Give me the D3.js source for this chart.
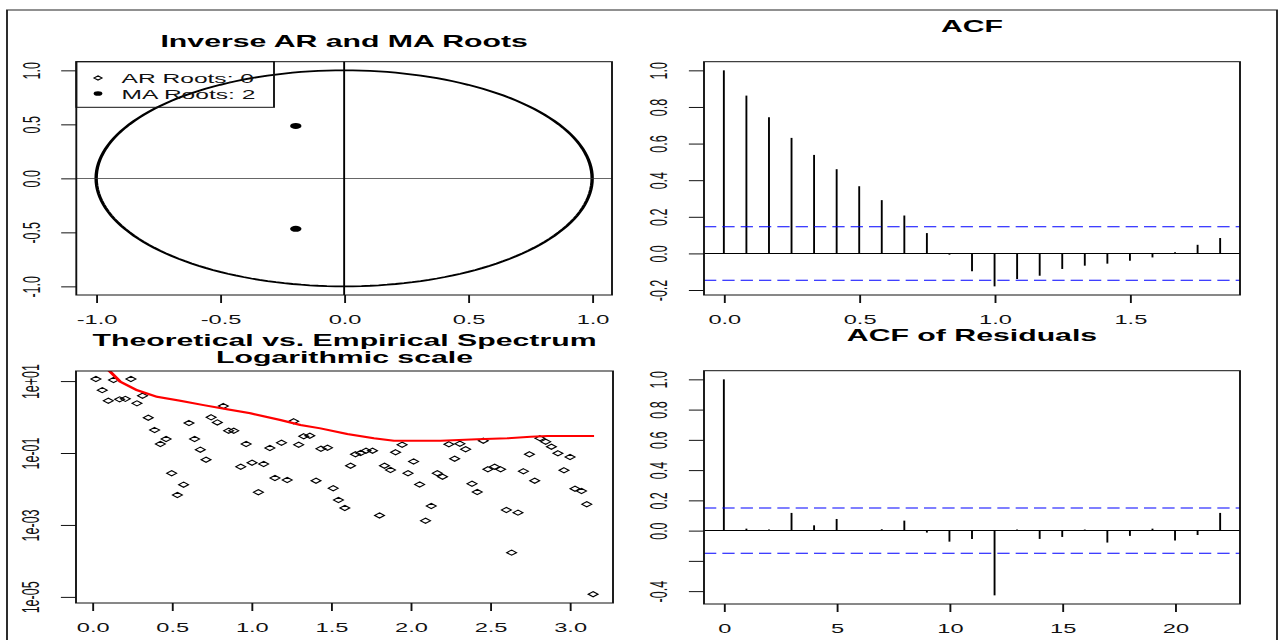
<!DOCTYPE html>
<html>
<head>
<meta charset="utf-8">
<script src="https://cdn.jsdelivr.net/npm/d3@7"></script>
<style>
  html, body { margin: 0; padding: 0; background: #fff; }
  svg { display: block; }
</style>
</head>
<body>
<div class="chart"></div>
<script>
// ---- values ----

// inverse roots panel
const rootTicks = [-1, -0.5, 0, 0.5, 1];
const rootLabels = ["-1.0", "-0.5", "0.0", "0.5", "1.0"];
const maRootRe = [-0.195, -0.195];
const maRootIm = [0.485, -0.467];
const legendLabels = ["AR Roots: 0", "MA Roots: 2"];

// ACF panel
const acfLags = [0, 0.0833, 0.1667, 0.25, 0.3333, 0.4167, 0.5, 0.5833, 0.6667, 0.75, 0.8333, 0.9167,
                 1.0, 1.0833, 1.1667, 1.25, 1.3333, 1.4167, 1.5, 1.5833, 1.6667, 1.75, 1.8333];
const acfValues = [1.0, 0.862, 0.744, 0.631, 0.538, 0.46, 0.367, 0.291, 0.207, 0.111, -0.007, -0.098,
                   -0.18, -0.14, -0.122, -0.085, -0.067, -0.056, -0.04, -0.022, 0.007, 0.047, 0.084];
const acfCi = 0.146;
const acfXTicks = [0, 0.5, 1, 1.5];
const acfXLabels = ["0.0", "0.5", "1.0", "1.5"];
const acfYTicks = [-0.2, 0, 0.2, 0.4, 0.6, 0.8, 1];
const acfYLabels = ["-0.2", "0.0", "0.2", "0.4", "0.6", "0.8", "1.0"];

// spectrum panel
const specFreq = [0.023, 0.063, 0.101, 0.134, 0.172, 0.208, 0.243, 0.281, 0.316, 0.352,
                  0.392, 0.428, 0.464, 0.499, 0.535, 0.574, 0.608, 0.643, 0.679, 0.715,
                  0.747, 0.786, 0.824, 0.857, 0.889, 0.933, 0.967, 1.004, 1.044, 1.077,
                  1.116, 1.148, 1.189, 1.225, 1.266, 1.297, 1.329, 1.367, 1.406, 1.437,
                  1.478, 1.514, 1.547, 1.587, 1.623, 1.654, 1.686, 1.72, 1.761, 1.805,
                  1.836, 1.874, 1.906, 1.947, 1.984, 2.019, 2.057, 2.094, 2.13, 2.168,
                  2.201, 2.241, 2.277, 2.31, 2.346, 2.386, 2.419, 2.457, 2.486, 2.528,
                  2.566, 2.602, 2.635, 2.675, 2.709, 2.747, 2.78, 2.813, 2.849, 2.885,
                  2.926, 2.964, 3.002, 3.033, 3.074, 3.107, 3.147];
const specEmpirical = [11.4, 5.6, 2.84, 10.7, 3.1, 3.2, 11.4, 2.4, 3.9, 0.96,
                       0.435, 0.178, 0.245, 0.0273, 0.0068, 0.0132, 0.68, 0.245, 0.124, 0.0652,
                       0.98, 0.71, 2.02, 0.416, 0.416, 0.0416, 0.178, 0.0538, 0.0081, 0.0494,
                       0.138, 0.0202, 0.193, 0.0178, 0.76, 0.17, 0.291, 0.303, 0.017, 0.1315,
                       0.14, 0.01045, 0.00495, 0.00297, 0.0444, 0.092, 0.1, 0.116, 0.116, 0.00184,
                       0.0444, 0.0337, 0.1045, 0.17, 0.0273, 0.058, 0.0133, 0.00131, 0.00337, 0.0273,
                       0.022, 0.1745, 0.0695, 0.181, 0.127, 0.014, 0.00826, 0.22, 0.0352, 0.0416,
                       0.0352, 0.00261, 0.00017, 0.0022, 0.031, 0.092, 0.017, 0.256, 0.206, 0.15,
                       0.098, 0.033, 0.0774, 0.0102, 0.0088, 0.00376, 0.0000119];
const theoFreq = [0.103, 0.176, 0.281, 0.407, 0.553, 0.7, 0.847, 0.994, 1.182, 1.308, 1.434,
                  1.602, 1.769, 1.895, 2.063, 2.189, 2.419, 2.608, 2.755, 2.86, 3.153];
const theoSpec = [20.2, 9.6, 5.6, 3.66, 2.84, 2.15, 1.64, 1.27, 0.826, 0.6, 0.485,
                  0.337, 0.256, 0.22, 0.22, 0.22, 0.24, 0.256, 0.284, 0.296, 0.296];
const specXTicks = [0, 0.5, 1, 1.5, 2, 2.5, 3];
const specXLabels = ["0.0", "0.5", "1.0", "1.5", "2.0", "2.5", "3.0"];
const specYTicks = [10, 0.1, 0.001, 0.00001];
const specYLabels = ["1e+01", "1e-01", "1e-03", "1e-05"];

// residual ACF panel
const resLags = [0, 1, 2, 3, 4, 5, 6, 7, 8, 9, 10, 11, 12, 13, 14, 15, 16, 17, 18, 19, 20, 21, 22];
const resAcf = [1.0, 0.013, 0.007, 0.117, 0.035, 0.077, 0.0, 0.009, 0.066, -0.013, -0.073, -0.055,
                -0.428, 0.007, -0.055, -0.042, 0.007, -0.079, -0.035, 0.013, -0.066, -0.029, 0.117];
const resCi = 0.15;
const resXTicks = [0, 5, 10, 15, 20];
const resXLabels = ["0", "5", "10", "15", "20"];
const resYTicks = [-0.4, -0.2, 0, 0.2, 0.4, 0.6, 0.8, 1];
const resYLabels = ["-0.4", "", "0.0", "0.2", "0.4", "0.6", "0.8", "1.0"];

// ---- layout ----
// the reference picture is stretched sideways, so draw in a squeezed space and scale it back
const S = 1.89;
const lx = v => v / S;
const FONT = "'Liberation Sans', Arial, Helvetica, sans-serif";

const svg = d3.select(".chart").append("svg").attr("width", 1280).attr("height", 640);
const root = svg.append("g").attr("transform", `scale(${S},1)`);

root.append("rect")
    .attr("x", lx(7)).attr("y", 10)
    .attr("width", lx(1270)).attr("height", 700)
    .attr("fill", "none").attr("stroke", "#222").attr("stroke-width", 1);

// R style range padding (4%)
function pad(ext){
    const d = (ext[1] - ext[0]) * 0.04;
    return [ext[0] - d, ext[1] + d];
}

function box(g, b){
    g.append("rect")
        .attr("x", lx(b.x0)).attr("y", b.y0)
        .attr("width", lx(b.x1 - b.x0)).attr("height", b.y1 - b.y0)
        .attr("fill", "none").attr("stroke", "#111").attr("stroke-width", 1);
}

function title(g, lines, cx, y){
    lines.forEach((t, i) => {
        g.append("text")
            .attr("x", lx(cx)).attr("y", y + i * 17)
            .attr("text-anchor", "middle")
            .attr("font-family", FONT).attr("font-weight", "bold").attr("font-size", 16)
            .attr("fill", "#000")
            .text(t);
    });
}

function bottomAxis(g, x, y0, ticks, labels){
    const a = g.append("g")
        .attr("transform", `translate(0,${y0})`)
        .call(d3.axisBottom(x).tickValues(ticks).tickFormat((d, i) => labels[i])
              .tickSize(8).tickSizeOuter(0).tickPadding(12));
    a.select(".domain").remove();
    a.attr("font-family", FONT).attr("font-size", 12.5);
    a.selectAll(".tick line").attr("stroke", "#111");
    a.selectAll(".tick text").attr("fill", "#111");
}

function leftAxis(g, y, x0, ticks, labels){
    const a = g.append("g")
        .attr("transform", `translate(${x0},0)`)
        .call(d3.axisLeft(y).tickValues(ticks).tickFormat((d, i) => labels[i])
              .tickSize(8).tickSizeOuter(0));
    a.select(".domain").remove();
    a.attr("font-family", FONT).attr("font-size", 12.5);
    a.selectAll(".tick line").attr("stroke", "#111");
    a.selectAll(".tick text")
        .attr("x", 0).attr("dy", "0.35em")
        .attr("text-anchor", "middle")
        .attr("transform", `translate(${-lx(45)},0) rotate(-90)`)
        .attr("fill", "#111");
}

function diamond(r){
    return `M0,${-r}L${r},0L0,${r}L${-r},0Z`;
}

// ---- inverse AR / MA roots ----
{
    const b = {x0: 76.3, x1: 612, y0: 61.7, y1: 295};
    const g = root.append("g");
    const x = d3.scaleLinear().domain([-1.08, 1.08]).range([lx(b.x0), lx(b.x1)]);
    const y = d3.scaleLinear().domain([-1.08, 1.08]).range([b.y1, b.y0]);

    // unit circle
    const circle = d3.range(0, 361, 2).map(a => [Math.cos(a * Math.PI / 180), Math.sin(a * Math.PI / 180)]);
    g.append("path")
        .attr("d", d3.line().x(d => x(d[0])).y(d => y(d[1]))(circle))
        .attr("fill", "none").attr("stroke", "#000").attr("stroke-width", 1.8);

    g.append("line").attr("x1", lx(b.x0)).attr("x2", lx(b.x1)).attr("y1", y(0)).attr("y2", y(0))
        .attr("stroke", "#333").attr("stroke-width", 0.9);
    g.append("line").attr("x1", x(0)).attr("x2", x(0)).attr("y1", b.y0).attr("y2", b.y1)
        .attr("stroke", "#000").attr("stroke-width", 1);

    g.selectAll(".ma").data(maRootRe).join("circle")
        .attr("cx", d => x(d)).attr("cy", (d, i) => y(maRootIm[i]))
        .attr("r", 3).attr("fill", "#000");

    box(g, b);
    bottomAxis(g, x, b.y1, rootTicks, rootLabels);
    leftAxis(g, y, lx(b.x0), rootTicks, rootLabels);
    title(g, ["Inverse AR and MA Roots"], (b.x0 + b.x1) / 2, 47);

    // legend
    const lg = g.append("g");
    lg.append("rect").attr("x", lx(b.x0)).attr("y", b.y0)
        .attr("width", lx(274 - b.x0)).attr("height", 107.3 - b.y0)
        .attr("fill", "none").attr("stroke", "#111").attr("stroke-width", 1);
    lg.append("path").attr("d", diamond(2.1))
        .attr("transform", `translate(${lx(98)},78)`)
        .attr("fill", "none").attr("stroke", "#000").attr("stroke-width", 0.9);
    lg.append("circle").attr("cx", lx(98)).attr("cy", 93.5).attr("r", 2.3).attr("fill", "#000");
    legendLabels.forEach((t, i) => {
        lg.append("text")
            .attr("x", lx(121.6)).attr("y", 78 + i * 16 + 4.6)
            .attr("font-family", FONT).attr("font-size", 13).attr("fill", "#111")
            .text(t);
    });
}

// ---- ACF ----
function acfPanel(b, lags, vals, ci, xt, xl, yt, yl, name, titleY){
    const g = root.append("g");
    const x = d3.scaleLinear().domain(pad(d3.extent(lags))).range([lx(b.x0), lx(b.x1)]);
    const y = d3.scaleLinear().domain(pad(d3.extent(vals.concat([-ci, ci])))).range([b.y1, b.y0]);

    g.selectAll(".stem").data(vals).join("line")
        .attr("x1", (d, i) => x(lags[i])).attr("x2", (d, i) => x(lags[i]))
        .attr("y1", y(0)).attr("y2", d => y(d))
        .attr("stroke", "#000").attr("stroke-width", 1);

    g.append("line").attr("x1", lx(b.x0)).attr("x2", lx(b.x1)).attr("y1", y(0)).attr("y2", y(0))
        .attr("stroke", "#000").attr("stroke-width", 1);

    [ci, -ci].forEach(c => {
        g.append("line").attr("x1", lx(b.x0)).attr("x2", lx(b.x1)).attr("y1", y(c)).attr("y2", y(c))
            .attr("stroke", "#0000ff").attr("stroke-width", 1).attr("stroke-dasharray", "6.5,3.2");
    });

    box(g, b);
    bottomAxis(g, x, b.y1, xt, xl);
    leftAxis(g, y, lx(b.x0), yt, yl);
    title(g, [name], (b.x0 + b.x1) / 2, titleY);
}

acfPanel({x0: 704, x1: 1240, y0: 61.7, y1: 295}, acfLags, acfValues, acfCi,
         acfXTicks, acfXLabels, acfYTicks, acfYLabels, "ACF", 32.5);
acfPanel({x0: 704, x1: 1240, y0: 370.7, y1: 604}, resLags, resAcf, resCi,
         resXTicks, resXLabels, resYTicks, resYLabels, "ACF of Residuals", 340.7);

// ---- spectrum ----
{
    const b = {x0: 76, x1: 613, y0: 371, y1: 603};
    const g = root.append("g");
    const x = d3.scaleLinear().domain(pad(d3.extent(specFreq))).range([lx(b.x0), lx(b.x1)]);
    const y = d3.scaleLog().domain([Math.pow(10, -5.17), Math.pow(10, 1.28)]).range([b.y1, b.y0]);

    svg.append("defs").append("clipPath").attr("id", "specClip")
        .append("rect").attr("x", lx(b.x0)).attr("y", b.y0)
        .attr("width", lx(b.x1 - b.x0)).attr("height", b.y1 - b.y0);

    g.selectAll(".pt").data(specEmpirical).join("path")
        .attr("d", diamond(2.6))
        .attr("transform", (d, i) => `translate(${x(specFreq[i])},${y(d)})`)
        .attr("fill", "none").attr("stroke", "#000").attr("stroke-width", 0.9);

    const line = d3.line().x((d, i) => x(theoFreq[i])).y(d => y(d));
    g.append("path")
        .attr("d", line(theoSpec))
        .attr("clip-path", "url(#specClip)")
        .attr("fill", "none").attr("stroke", "#ff0000").attr("stroke-width", 2);

    box(g, b);
    bottomAxis(g, x, b.y1, specXTicks, specXLabels);
    leftAxis(g, y, lx(b.x0), specYTicks, specYLabels);
    title(g, ["Theoretical vs. Empirical Spectrum", "Logarithmic scale"], (b.x0 + b.x1) / 2, 345.7);
}
</script>
</body>
</html>
